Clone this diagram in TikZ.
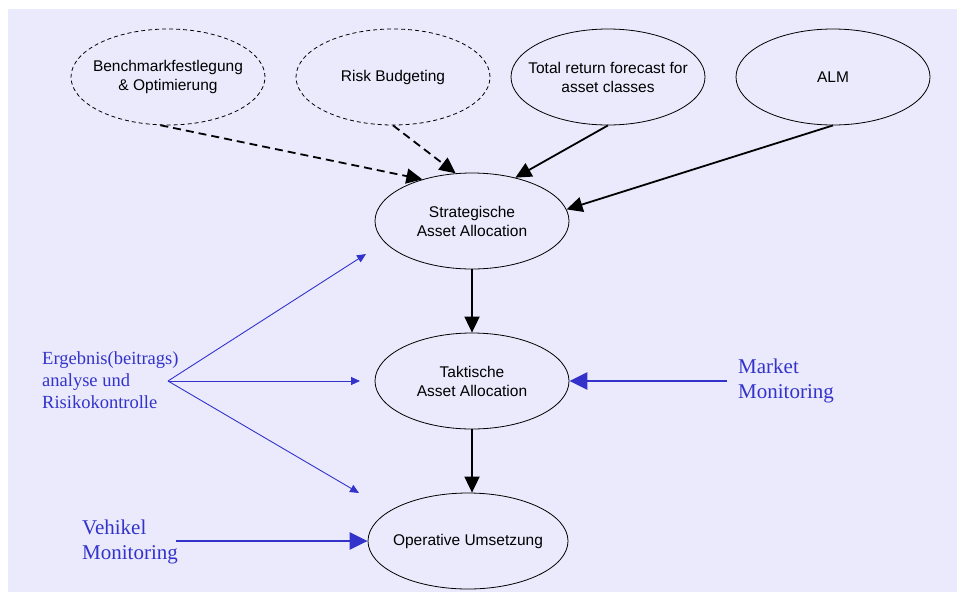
\documentclass[tikz,border=0pt]{standalone}
\usepackage{fontspec}
\setmainfont{Liberation Sans}
\newfontfamily\serifblue{Liberation Serif}
\usetikzlibrary{shapes.geometric,arrows.meta}
\definecolor{bglav}{RGB}{234,234,252}
\definecolor{txtblue}{RGB}{51,51,204}
\tikzset{
  ell/.style={ellipse, draw=black, line width=0.8pt, minimum width=194pt, minimum height=96pt, inner xsep=-25pt, inner ysep=0pt, align=center, font=\fontsize{15.5}{19}\selectfont},
  dell/.style={ell, dash pattern=on 4pt off 3pt},
  blk/.style={-{Triangle[length=16pt,width=15pt]}, line width=1.8pt, black},
  dsh/.style={blk, dash pattern=on 8pt off 5pt},
  bthick/.style={-{Triangle[length=18pt,width=17pt]}, line width=2.5pt, txtblue},
  bthin/.style={-{Triangle[length=9pt,width=8pt]}, line width=0.9pt, txtblue},
  bigblue/.style={text=txtblue, align=left, inner sep=0pt, font=\serifblue\fontsize{21}{25}\selectfont},
  smallblue/.style={text=txtblue, align=left, inner sep=0pt, font=\serifblue\fontsize{18.5}{22}\selectfont}
}
\begin{document}
\begin{tikzpicture}[x=1pt,y=-1pt]
\path[use as bounding box] (0,0) rectangle (957,592);
\fill[bglav] (8,9) rectangle (957,592);
% nodes
\node[dell] (bench) at (168,77) {Benchmarkfestlegung\\\& Optimierung};
\node[dell] (risk) at (393,77) {Risk Budgeting};
\node[ell] (total) at (608,77) {Total return forecast for\\asset classes};
\node[ell] (alm) at (833,77) {ALM};
\node[ell] (strat) at (472,221) {Strategische\\Asset Allocation};
\node[ell] (takt) at (472,381) {Taktische\\Asset Allocation};
\node[ell, minimum width=200pt] (oper) at (468,541) {Operative Umsetzung};
% blue labels
\node[bigblue, anchor=west] (market) at (738,381) {Market\\Monitoring};
\node[bigblue, anchor=west] (vehikel) at (82,542) {Vehikel\\Monitoring};
\node[smallblue, anchor=west] (ergeb) at (42,380) {Ergebnis(beitrags)\\analyse und\\Risikokontrolle};
% coordinates
\coordinate (apex) at (168,381);
\coordinate (tipS) at (366,254);
\coordinate (tipT) at (360,381);
\coordinate (tipO) at (359,493);
\coordinate (mstart) at (727,381);
\coordinate (vstart) at (176,541);
% black arrows
\draw[dsh] (bench.-99) -- (strat.140);
\draw[dsh] (risk.south) -- (strat.109);
\draw[blk] (total.south) -- (strat.45);
\draw[blk] (alm.south) -- (strat.7);
\draw[blk] (strat.south) -- (takt.north);
\draw[blk] (takt.south) -- (takt.south |- oper.north);
% blue arrows
\draw[bthin] (apex) -- (tipS);
\draw[bthin] (apex) -- (tipT);
\draw[bthin] (apex) -- (tipO);
\draw[bthick] (mstart) -- (takt.east);
\draw[bthick] (vstart) -- (oper.west);
\end{tikzpicture}
\end{document}
